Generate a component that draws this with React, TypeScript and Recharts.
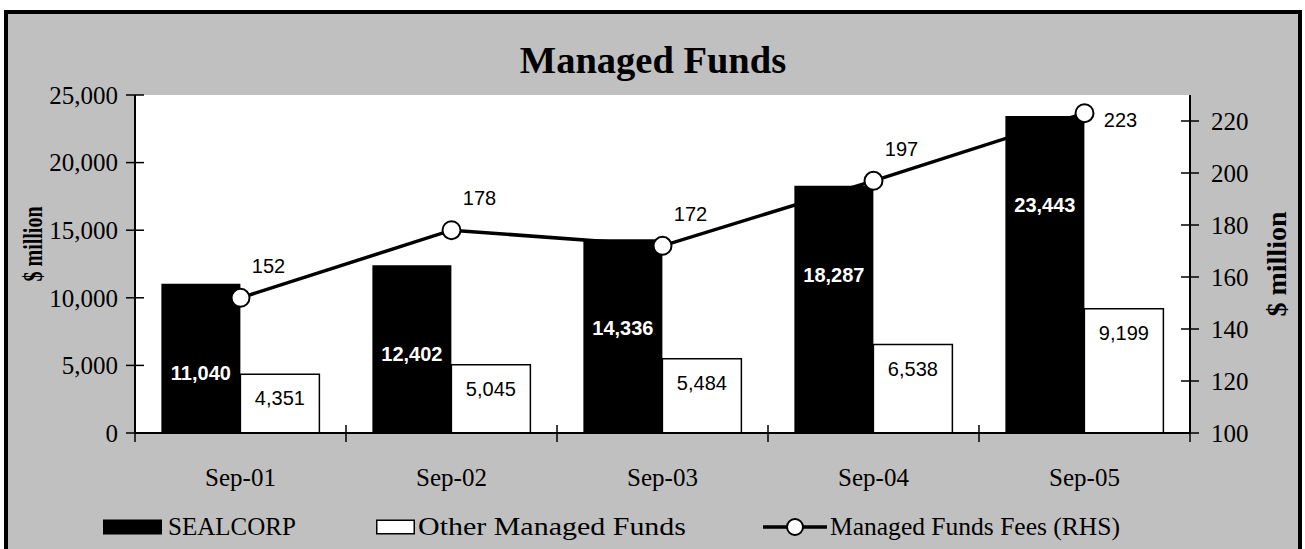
import React from 'react'
import { ComposedChart, Bar, Line, XAxis, YAxis, CartesianGrid, Legend, LabelList } from 'recharts'

const categories = ['Sep-01', 'Sep-02', 'Sep-03', 'Sep-04', 'Sep-05']
const sealcorp = [11040, 12402, 14336, 18287, 23443]
const otherFunds = [4351, 5045, 5484, 6538, 9199]
const fees = [152, 178, 172, 197, 223]
const leftTicks = [0, 5000, 10000, 15000, 20000, 25000]
const rightTicks = [100, 120, 140, 160, 180, 200, 220]

const SERIES = {
  sealcorp: 'SEALCORP',
  other: 'Other Managed Funds',
  fees: 'Managed Funds Fees (RHS)',
}

const data = categories.map((cat, i) => ({
  cat,
  sealcorp: sealcorp[i],
  other: otherFunds[i],
  fees: fees[i],
}))

const W = 1290
const H = 535
const LEFT_W = 127
const RIGHT_W = 108
const BAND = (W - LEFT_W - RIGHT_W) / categories.length
const SERIF = '"Liberation Serif", "Times New Roman", serif'
const SANS = '"Liberation Sans", Arial, sans-serif'

const fmt = (v: number) => v.toLocaleString('en-US')

const LeftTick = ({ x, y, payload }: any) => (
  <g>
    <line x1={x - 9} x2={x + 9} y1={y} y2={y} stroke="#000" strokeWidth={1.5} />
    <text x={x - 17} y={y} dy="0.35em" textAnchor="end" fontFamily={SERIF} fontSize={25} fill="#000">
      {fmt(payload.value)}
    </text>
  </g>
)

const RightTick = ({ x, y, payload }: any) => (
  <g>
    <line x1={x - 9} x2={x + 9} y1={y} y2={y} stroke="#000" strokeWidth={1.5} />
    <text x={x + 21} y={y} dy="0.35em" textAnchor="start" fontFamily={SERIF} fontSize={25} fill="#000">
      {payload.value}
    </text>
  </g>
)

// ticks on the category boundaries, crossing the axis
const CatTick = ({ x, y, payload }: any) => {
  const isLast = payload.value === categories[categories.length - 1]
  return (
    <g>
      <line x1={x - BAND / 2} x2={x - BAND / 2} y1={y - 8} y2={y + 9} stroke="#000" strokeWidth={1.5} />
      {isLast && <line x1={x + BAND / 2} x2={x + BAND / 2} y1={y - 8} y2={y + 9} stroke="#000" strokeWidth={1.5} />}
      <text x={x} y={y + 44} dy="0.35em" textAnchor="middle" fontFamily={SERIF} fontSize={25} fill="#000">
        {payload.value}
      </text>
    </g>
  )
}

const AxisTitle = ({ viewBox, side }: any) => {
  const cx = side === 'left' ? viewBox.x + 24 : viewBox.x + 86
  const cy = viewBox.y + viewBox.height / 2 + (side === 'left' ? -20 : 0)
  return (
    <text
      x={cx}
      y={cy}
      transform={`rotate(-90 ${cx} ${cy})`}
      textAnchor="middle"
      dominantBaseline="central"
      fontFamily={SERIF}
      fontWeight="bold"
      fontSize={28}
      fill="#000"
      {...(side === 'left' ? { textLength: 75, lengthAdjust: 'spacingAndGlyphs' } : {})}
    >
      $ million
    </text>
  )
}

const SealLabel = (p: any) => (
  <text x={p.x + p.width / 2} y={p.y + 89} dy="0.35em" textAnchor="middle" fontFamily={SANS} fontWeight="bold" fontSize={20} fill="#fff">
    {fmt(p.value)}
  </text>
)

const OtherLabel = (p: any) => (
  <text x={p.x + p.width / 2} y={p.y + 24} dy="0.35em" textAnchor="middle" fontFamily={SANS} fontSize={20} fill="#000">
    {fmt(p.value)}
  </text>
)

const FeeLabel = (p: any) => {
  const last = p.index === fees.length - 1
  return (
    <text x={p.x + (last ? 36 : 28)} y={p.y + (last ? 7 : -32)} dy="0.35em" textAnchor="middle" fontFamily={SANS} fontSize={20} fill="#000">
      {p.value}
    </text>
  )
}

const LegendContent = () => (
  <svg width={W} height={30} style={{ display: 'block' }}>
    <g fontFamily={SERIF} fontSize={25} fill="#000">
      <rect x={95} y={7.5} width={59} height={15} fill="#000" />
      <text x={160} y={15} dy="0.33em">{SERIES.sealcorp}</text>
      <rect x={368.75} y={8.25} width={37.5} height={13.5} fill="#fff" stroke="#000" strokeWidth={1.5} />
      <text x={410} y={15} dy="0.33em" textLength={268} lengthAdjust="spacingAndGlyphs">{SERIES.other}</text>
      <line x1={755} x2={819} y1={15} y2={15} stroke="#000" strokeWidth={3.5} />
      <circle cx={787} cy={15} r={8} fill="#fff" stroke="#000" strokeWidth={2} />
      <text x={822} y={15} dy="0.33em" textLength={290} lengthAdjust="spacingAndGlyphs">{SERIES.fees}</text>
    </g>
  </svg>
)

export default function App() {
  return (
    <div
      style={{
        position: 'absolute',
        left: 4,
        top: 10,
        width: 1298,
        height: 539,
        boxSizing: 'border-box',
        border: '4px solid #000',
        borderBottom: 'none',
        background: '#c0c0c0',
        overflow: 'hidden',
      }}
    >
      <ComposedChart
        width={W}
        height={H}
        data={data}
        margin={{ top: 81, right: 0, bottom: 7, left: 0 }}
        barCategoryGap="12.5%"
        barGap={0}
      >
        <CartesianGrid yAxisId="left" fill="#fff" horizontal={false} vertical={false} />
        <XAxis
          dataKey="cat"
          height={79}
          interval={0}
          tickSize={0}
          tickMargin={0}
          tickLine={false}
          axisLine={{ stroke: '#000', strokeWidth: 2 }}
          tick={<CatTick />}
        />
        <XAxis xAxisId="top" orientation="top" dataKey="cat" height={0} tick={false} tickLine={false} axisLine={{ stroke: '#000', strokeWidth: 1 }} />
        <YAxis
          yAxisId="left"
          width={LEFT_W}
          domain={[0, 25000]}
          ticks={leftTicks}
          interval={0}
          tickSize={0}
          tickMargin={0}
          tickLine={false}
          axisLine={{ stroke: '#000', strokeWidth: 2 }}
          tick={<LeftTick />}
          label={{ content: (p: any) => <AxisTitle viewBox={p.viewBox} side="left" /> }}
        />
        <YAxis
          yAxisId="right"
          orientation="right"
          width={RIGHT_W}
          domain={[100, 230]}
          ticks={rightTicks}
          interval={0}
          tickSize={0}
          tickMargin={0}
          tickLine={false}
          axisLine={{ stroke: '#000', strokeWidth: 2 }}
          tick={<RightTick />}
          label={{ content: (p: any) => <AxisTitle viewBox={p.viewBox} side="right" /> }}
        />
        <Legend verticalAlign="bottom" height={30} content={<LegendContent />} />
        <Bar yAxisId="left" dataKey="sealcorp" name={SERIES.sealcorp} fill="#000" isAnimationActive={false}>
          <LabelList dataKey="sealcorp" content={SealLabel} />
        </Bar>
        <Bar yAxisId="left" dataKey="other" name={SERIES.other} fill="#fff" stroke="#000" strokeWidth={1.5} isAnimationActive={false}>
          <LabelList dataKey="other" content={OtherLabel} />
        </Bar>
        <Line
          yAxisId="right"
          dataKey="fees"
          name={SERIES.fees}
          stroke="#000"
          strokeWidth={3.5}
          dot={{ r: 9, fill: '#fff', stroke: '#000', strokeWidth: 2 }}
          isAnimationActive={false}
        >
          <LabelList dataKey="fees" content={FeeLabel} />
        </Line>
      </ComposedChart>
      <div
        style={{
          position: 'absolute',
          top: 27,
          left: 0,
          width: '100%',
          textAlign: 'center',
          fontFamily: SERIF,
          fontWeight: 'bold',
          fontSize: 38.5,
          lineHeight: '38.5px',
          color: '#000',
        }}
      >
        Managed Funds
      </div>
    </div>
  )
}
